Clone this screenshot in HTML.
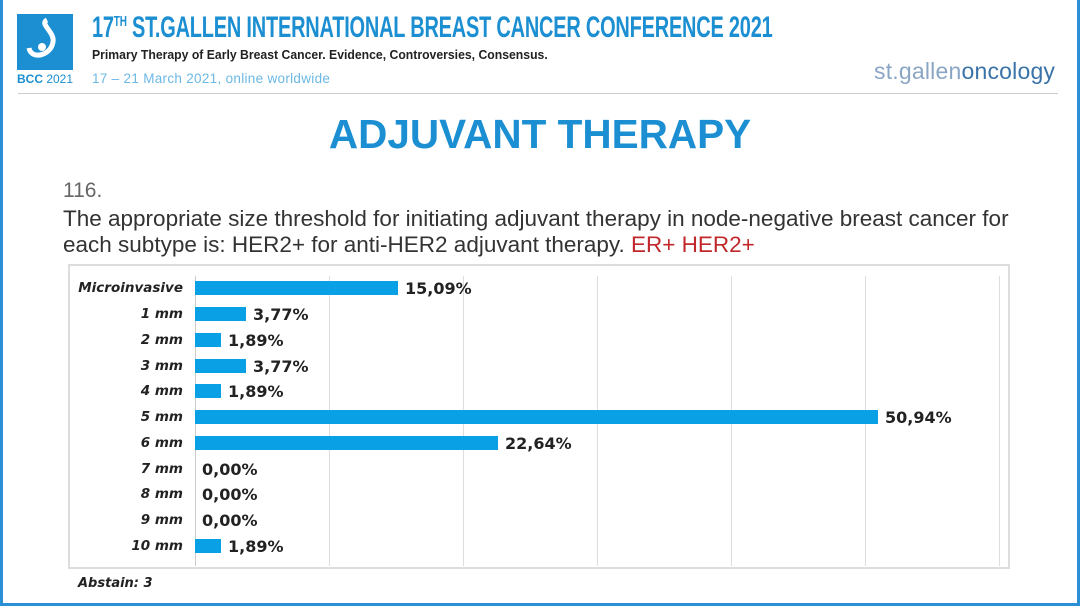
<!DOCTYPE html>
<html><head><meta charset="utf-8">
<style>
*{margin:0;padding:0;box-sizing:border-box}
body{width:1080px;height:606px;background:#fff;position:relative;overflow:hidden;font-family:"Liberation Sans",sans-serif}
.abs{position:absolute;white-space:nowrap}
.lab{position:absolute;right:897px;font-weight:bold;font-style:italic;font-size:13.5px;color:#222;text-align:right;font-family:"DejaVu Sans","Liberation Sans",sans-serif}
.bar{position:absolute;left:195px;height:14px;background:#0aa0e6}
.val{position:absolute;font-weight:bold;font-size:16px;color:#222;font-family:"DejaVu Sans","Liberation Sans",sans-serif}
.grid{position:absolute;top:276px;height:290px;width:1px;background:#ddd}
</style></head><body>
<div class="abs" style="left:0;top:0;width:3px;height:606px;background:#2a8fd4"></div>
<div class="abs" style="right:0;top:0;width:3px;height:606px;background:#2a8fd4"></div>
<div class="abs" style="left:0;bottom:0;width:1080px;height:3px;background:#2a8fd4"></div>
<div class="abs" style="left:17px;top:14px;width:56px;height:56px;background:#1b8fd2;overflow:hidden">
<svg width="56" height="56"><path d="M30 6 C22 10 38 18 36 28 C34 42 14 46 12 34" stroke="#fff" stroke-width="5" fill="none"/><circle cx="25" cy="33" r="4" fill="#fff"/></svg></div>
<div class="abs" style="left:17px;top:72px;font-size:12px;color:#1b8fd2"><b>BCC</b> 2021</div>
<div class="abs" style="left:92px;top:11px;font-size:30px;font-weight:bold;color:#1b8fd2;letter-spacing:-0.3px;transform:scaleX(0.665);transform-origin:left">17<sup style="font-size:15px">TH</sup> ST.GALLEN INTERNATIONAL BREAST CANCER CONFERENCE 2021</div>
<div class="abs" style="left:92px;top:47px;font-size:13px;font-weight:bold;color:#222;transform:scaleX(0.94);transform-origin:left">Primary Therapy of Early Breast Cancer. Evidence, Controversies, Consensus.</div>
<div class="abs" style="left:92px;top:71px;font-size:13.5px;color:#6cb8e4;letter-spacing:0.3px">17 – 21 March 2021, online worldwide</div>
<div class="abs" style="left:874px;top:58px;font-size:23px;color:#8aa6c4;letter-spacing:0.2px">st.gallen<span style="color:#3a73a8">oncology</span></div>
<div class="abs" style="left:18px;top:93px;width:1040px;height:1px;background:#ccc"></div>
<div class="abs" style="left:0;top:111px;width:1080px;text-align:center;font-size:40.5px;font-weight:bold;color:#1b8fd2">ADJUVANT THERAPY</div>
<div class="abs" style="left:63px;top:179px;font-size:21px;color:#666">116.</div>
<div class="abs" style="left:63px;top:206px;font-size:22.5px;color:#333">The appropriate size threshold for initiating adjuvant therapy in node-negative breast cancer for</div>
<div class="abs" style="left:63px;top:232px;font-size:22.5px;color:#333">each subtype is: HER2+ for anti-HER2 adjuvant therapy. <span style="color:#c0282b">ER+ HER2+</span></div>
<div class="abs" style="left:68px;top:264px;width:942px;height:305px;border:2px solid #ddd"></div>
<div class="grid" style="left:195px;background:#ccc"></div>
<div class="grid" style="left:329px"></div>
<div class="grid" style="left:463px"></div>
<div class="grid" style="left:597px"></div>
<div class="grid" style="left:731px"></div>
<div class="grid" style="left:865px"></div>
<div class="grid" style="left:999px"></div>

<div class="lab" style="top:280px">Microinvasive</div><div class="bar" style="top:281px;width:203px"></div><div class="val" style="left:405px;top:279px">15,09%</div>
<div class="lab" style="top:306px">1 mm</div><div class="bar" style="top:307px;width:51px"></div><div class="val" style="left:253px;top:305px">3,77%</div>
<div class="lab" style="top:332px">2 mm</div><div class="bar" style="top:333px;width:26px"></div><div class="val" style="left:228px;top:331px">1,89%</div>
<div class="lab" style="top:358px">3 mm</div><div class="bar" style="top:359px;width:51px"></div><div class="val" style="left:253px;top:357px">3,77%</div>
<div class="lab" style="top:383px">4 mm</div><div class="bar" style="top:384px;width:26px"></div><div class="val" style="left:228px;top:382px">1,89%</div>
<div class="lab" style="top:409px">5 mm</div><div class="bar" style="top:410px;width:683px"></div><div class="val" style="left:885px;top:408px">50,94%</div>
<div class="lab" style="top:435px">6 mm</div><div class="bar" style="top:436px;width:303px"></div><div class="val" style="left:505px;top:434px">22,64%</div>
<div class="lab" style="top:461px">7 mm</div><div class="val" style="left:202px;top:460px">0,00%</div>
<div class="lab" style="top:486px">8 mm</div><div class="val" style="left:202px;top:485px">0,00%</div>
<div class="lab" style="top:512px">9 mm</div><div class="val" style="left:202px;top:511px">0,00%</div>
<div class="lab" style="top:538px">10 mm</div><div class="bar" style="top:539px;width:26px"></div><div class="val" style="left:228px;top:537px">1,89%</div>
<div class="abs" style="left:78px;top:576px;font-size:13px;font-weight:bold;font-style:italic;color:#222;font-family:'DejaVu Sans','Liberation Sans',sans-serif">Abstain: 3</div>
</body></html>
